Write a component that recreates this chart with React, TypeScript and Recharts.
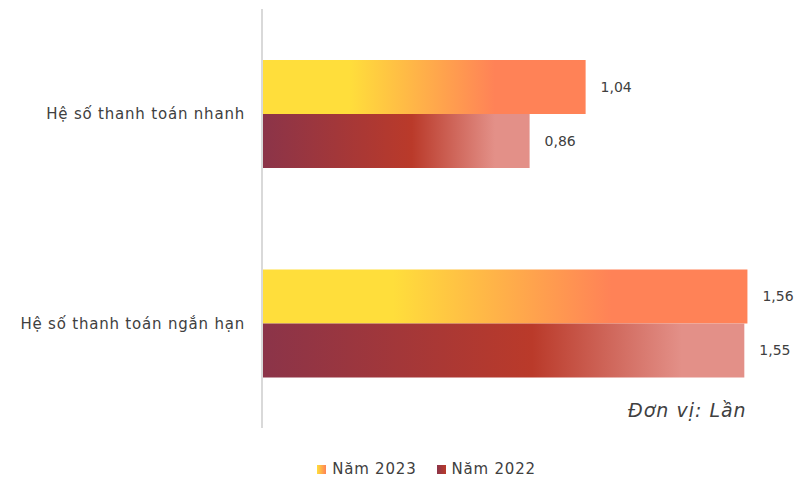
import { BarChart, Bar, XAxis, YAxis, Legend, LabelList } from 'recharts';

const categories = ['Hệ số thanh toán nhanh', 'Hệ số thanh toán ngắn hạn'];
const values2023 = [1.04, 1.56];
const values2022 = [0.86, 1.55];

const data = categories.map((name, i) => ({ name, y2023: values2023[i], y2022: values2022[i] }));

const FONT = '"DejaVu Sans", sans-serif';
const fmt = (v: any) => Number(v).toFixed(2).replace('.', ',');

const legendItems = [
  { label: 'Năm 2023', id: 'lg2023', from: '#FFDE3B', to: '#FF8257' },
  { label: 'Năm 2022', id: 'lg2022', from: '#8B3449', to: '#BA3A2A' },
];

function LegendContent() {
  return (
    <div style={{ display: 'flex', justifyContent: 'center', gap: 20, fontFamily: FONT, fontSize: 15, letterSpacing: 0.8, color: '#404040', paddingLeft: 62 }}>
      {legendItems.map((it) => (
        <div key={it.label} style={{ display: 'flex', alignItems: 'center', gap: 6 }}>
          <svg width={9} height={9}>
            <defs>
              <linearGradient id={it.id} x1="0" y1="0" x2="1" y2="0">
                <stop offset="0" stopColor={it.from} />
                <stop offset="1" stopColor={it.to} />
              </linearGradient>
            </defs>
            <rect width={9} height={9} fill={`url(#${it.id})`} />
          </svg>
          <span>{it.label}</span>
        </div>
      ))}
    </div>
  );
}

const labelStyle = { fontFamily: FONT, fontSize: 14, fill: '#404040' };

export default function App() {
  return (
    <div style={{ position: 'absolute', left: 0, top: 0, width: 794, height: 479, background: '#fff' }}>
      <BarChart
        width={794}
        height={479}
        data={data}
        layout="vertical"
        margin={{ top: 9, right: 3, bottom: 33, left: 0 }}
        barGap={0}
        barSize={54}
      >
        <defs>
          <linearGradient id="g2023" x1="0" y1="0" x2="1" y2="0">
            <stop offset="0" stopColor="#FFDE3B" />
            <stop offset="0.27" stopColor="#FFDE3B" />
            <stop offset="0.72" stopColor="#FF8257" />
            <stop offset="1" stopColor="#FF8257" />
          </linearGradient>
          <linearGradient id="g2022" x1="0" y1="0" x2="1" y2="0">
            <stop offset="0" stopColor="#8B3449" />
            <stop offset="0.56" stopColor="#BA3A2A" />
            <stop offset="0.87" stopColor="#E39088" />
            <stop offset="1" stopColor="#E39088" />
          </linearGradient>
        </defs>
        <XAxis type="number" domain={[0, 1.7]} hide />
        <YAxis
          type="category"
          dataKey="name"
          width={262}
          axisLine={{ stroke: '#D9D9D9', strokeWidth: 2 }}
          tickLine={false}
          tick={{ fontFamily: FONT, fontSize: 15, fill: '#404040', letterSpacing: 0.8 }}
          tickMargin={11}
        />
        <Legend verticalAlign="bottom" content={<LegendContent />} wrapperStyle={{ top: 460 }} />
        <Bar dataKey="y2023" name="Năm 2023" fill="url(#g2023)" isAnimationActive={false}>
          <LabelList dataKey="y2023" position="right" offset={15} formatter={fmt} style={labelStyle} />
        </Bar>
        <Bar dataKey="y2022" name="Năm 2022" fill="url(#g2022)" isAnimationActive={false}>
          <LabelList dataKey="y2022" position="right" offset={15} formatter={fmt} style={labelStyle} />
        </Bar>
      </BarChart>
      <div style={{ position: 'absolute', left: 628, top: 399, fontFamily: FONT, fontStyle: 'italic', fontSize: 19, letterSpacing: 1, color: '#404040' }}>
        Đơn vị: Lần
      </div>
    </div>
  );
}
